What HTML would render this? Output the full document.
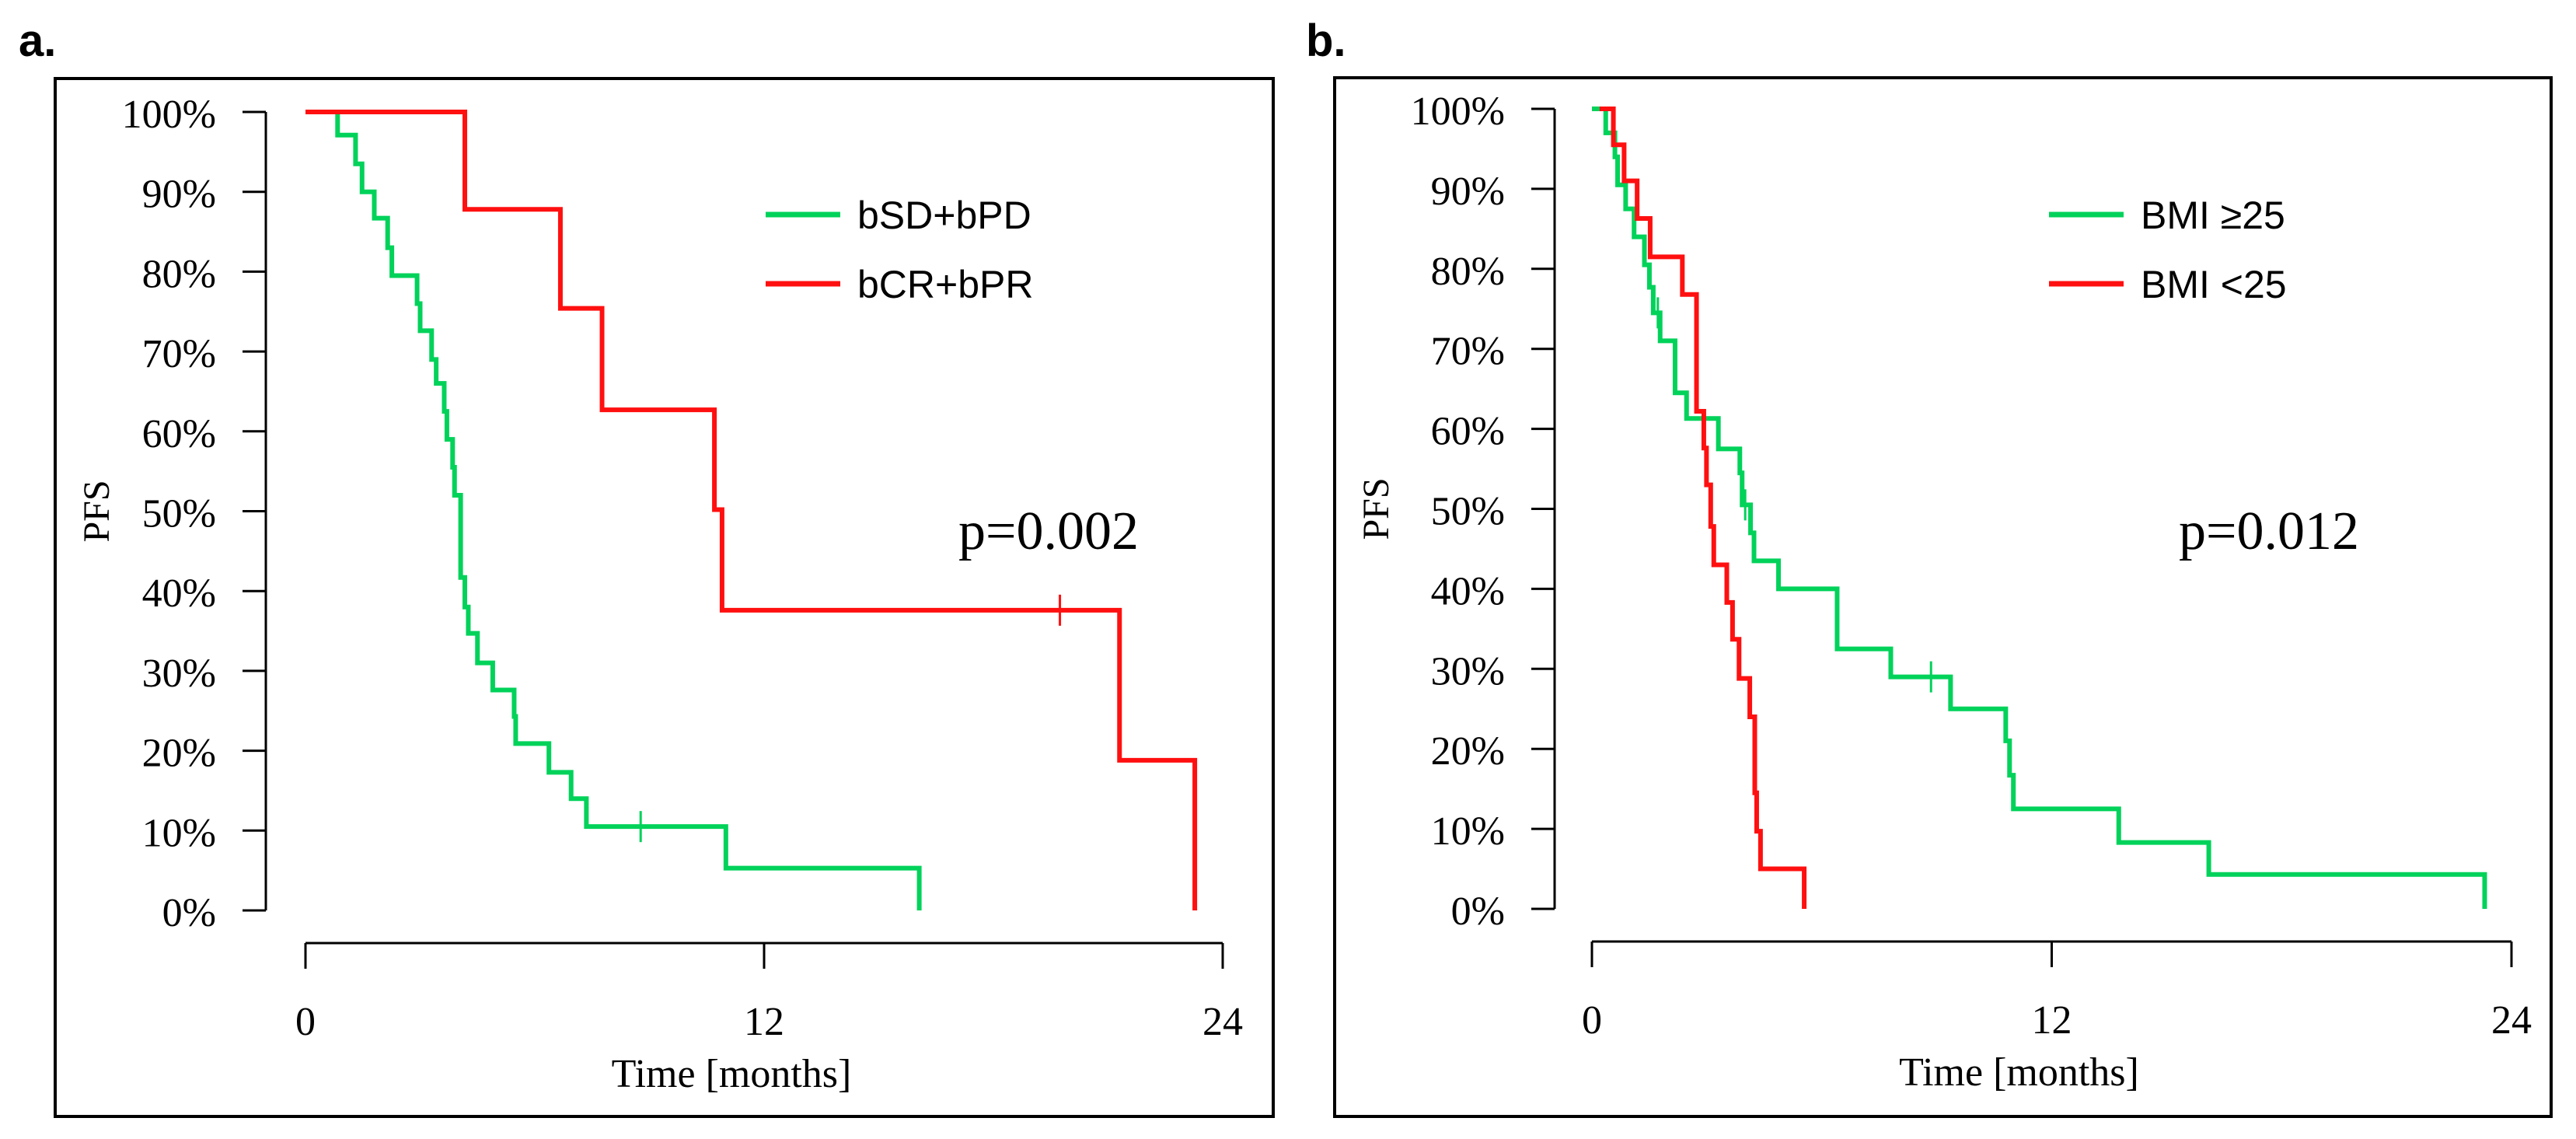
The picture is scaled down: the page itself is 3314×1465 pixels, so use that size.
<!DOCTYPE html>
<html><head><meta charset="utf-8"><style>
html,body{margin:0;padding:0;background:#fff;overflow:hidden;}
svg{display:block;}
</style></head><body>
<svg id="chart" width="3314" height="1465" viewBox="0 0 3314 1465" xmlns="http://www.w3.org/2000/svg">
</svg>
<script>
// Panel a data (months, %)
const aGreenT = [0,0.84,1.31,1.48,1.8,2.15,2.26,2.92,3.0,3.3,3.42,3.63,3.7,3.85,3.9,4.06,4.17,4.26,4.5,4.9,5.46,5.5,6.37,6.95,7.35,11.0,16.06];
const aGreenS = [100,97.1,93.5,90,86.7,83,79.5,76,72.6,69,66,62.5,59,55.5,52,41.7,38,34.7,31,27.6,24.3,20.9,17.3,14,10.5,5.3,0];
const aGreenCens = [8.77];
const aRedT = [0,4.17,6.67,7.76,10.7,10.9,21.3,23.27];
const aRedS = [100,87.8,75.4,62.7,50.2,37.6,18.8,0];
const aRedCens = [19.74];
// Panel b data
const bGreenT = [0,0.36,0.6,0.67,0.88,1.1,1.37,1.5,1.6,1.78,2.17,2.47,3.3,3.86,3.92,4.14,4.23,4.87,6.4,7.8,9.36,10.8,10.9,11.0,13.75,16.1,23.3];
const bGreenS = [100,97,94,90.5,87.5,84,80.5,77.7,74.5,71,64.5,61.3,57.5,54.5,50.5,47,43.5,40,32.5,29,25,21,16.7,12.5,8.3,4.3,0];
const bGreenCens = [1.72,4.0,8.85];
const bRedT = [0.2,0.56,0.84,1.18,1.52,2.36,2.73,2.92,2.99,3.1,3.18,3.52,3.67,3.84,4.12,4.25,4.3,4.4,5.54];
const bRedS = [100,95.5,91,86.3,81.5,76.8,62.2,57.6,53,47.8,43,38.3,33.7,28.8,24,14.5,9.7,5,0];
const bRedCens = [];
const yTicks = [0,10,20,30,40,50,60,70,80,90,100];
const xTicks = [0,12,24];

const NS = "http://www.w3.org/2000/svg";
const svg = document.getElementById('chart');
function mk(tag, attrs, parent, text){
  const e = document.createElementNS(NS, tag);
  for (const k in attrs) e.setAttribute(k, attrs[k]);
  if (text !== undefined) e.textContent = text;
  (parent||svg).appendChild(e);
  return e;
}
const GREEN = "#00d25a", RED = "#ff1010";

function panel(cfg){
  const g = mk('g', {});
  
  
  const xs = t => cfg.x0 + (cfg.x24 - cfg.x0) * t / 24;
  const ys = p => cfg.y0 + (cfg.y100 - cfg.y0) * p / 100;
  const lt = mk('text', {x: cfg.lx, y: 72, 'font-family': 'Liberation Sans, sans-serif', 'font-weight': 'bold', 'font-size': 58}, g, cfg.letter);
  
  
  const fr = mk('rect', {x: cfg.bx, y: cfg.by, width: cfg.bw, height: cfg.bh, fill: 'none', stroke: '#000', 'stroke-width': 4}, g);
  
  
  const ya = mk('line', {x1: cfg.yax, y1: ys(100), x2: cfg.yax, y2: ys(0), stroke: '#000', 'stroke-width': 3}, g);
  
  
  yTicks.forEach(v => {
    mk('line', {x1: cfg.yax - 30, y1: ys(v), x2: cfg.yax, y2: ys(v), stroke: '#000', 'stroke-width': 3}, g);
    const t = mk('text', {x: cfg.yax - 64, y: ys(v) + 20, 'text-anchor': 'end', 'font-family': 'Liberation Serif, serif', 'font-size': 52}, g, v + '%');
    
    
  });
  const xa = mk('line', {x1: xs(0), y1: cfg.xay, x2: xs(24), y2: cfg.xay, stroke: '#000', 'stroke-width': 3}, g);
  
  
  xTicks.forEach(v => {
    mk('line', {x1: xs(v), y1: cfg.xay, x2: xs(v), y2: cfg.xay + 33, stroke: '#000', 'stroke-width': 3}, g);
    const t = mk('text', {x: xs(v), y: cfg.xay + 118, 'text-anchor': 'middle', 'font-family': 'Liberation Serif, serif', 'font-size': 52}, g, String(v));
    
    
  });
  const xt = mk('text', {x: xs(12) - 42, y: cfg.xay + 185, 'text-anchor': 'middle', 'font-family': 'Liberation Serif, serif', 'font-size': 52}, g, 'Time [months]');
  
  
  const yt = mk('text', {x: 0, y: 0, 'text-anchor': 'middle', 'font-family': 'Liberation Serif, serif', 'font-size': 48, transform: `translate(${cfg.bx + 69},${(ys(0)+ys(100))/2}) rotate(-90)`}, g, 'PFS');
  
  
  function curve(T, S, cens, color, name){
    let d = `M${xs(T[0])},${ys(S[0])}`;
    for (let i = 1; i < T.length; i++){
      d += ` H${xs(T[i])} V${ys(S[i])}`;
    }
    const p = mk('path', {d, fill: 'none', stroke: color, 'stroke-width': 6}, g);
    
    
    cens.forEach(c => {
      let s = S[0];
      for (let i = 0; i < T.length; i++) if (T[i] <= c) s = S[i];
      const m = mk('line', {x1: xs(c), y1: ys(s) - 20, x2: xs(c), y2: ys(s) + 20, stroke: color, 'stroke-width': 3}, g);
      
      
    });
  }
  curve(cfg.gT, cfg.gS, cfg.gC, GREEN, 'curve-green');
  curve(cfg.rT, cfg.rS, cfg.rC, RED, 'curve-red');
  [[cfg.leg1, GREEN, 276], [cfg.leg2, RED, 365]].forEach(([lab, col, y]) => {
    const l = mk('line', {x1: cfg.lgx, y1: y, x2: cfg.lgx + 96, y2: y, stroke: col, 'stroke-width': 7}, g);
    
    
    const t = mk('text', {x: cfg.lgx + 118, y: y + 18, 'font-family': 'Liberation Sans, sans-serif', 'font-size': 50}, g, lab);
    
    
  });
  const pv = mk('text', {x: cfg.px, y: 706, 'font-family': 'Liberation Serif, serif', 'font-size': 70}, g, cfg.p);
  
  
}

panel({name:'panel-a', letter:'a.', lx:24, bx:71, by:101, bw:1567, bh:1335, yax:342, y0:1171, y100:144,
  x0:393, x24:1573, xay:1213, gT:aGreenT, gS:aGreenS, gC:aGreenCens, rT:aRedT, rS:aRedS, rC:aRedCens,
  leg1:'bSD+bPD', leg2:'bCR+bPR', lgx:985, px:1233, p:'p=0.002'});
panel({name:'panel-b', letter:'b.', lx:1680, bx:1717, by:100, bw:1565, bh:1336, yax:2000, y0:1169, y100:140,
  x0:2048, x24:3231, xay:1211, gT:bGreenT, gS:bGreenS, gC:bGreenCens, rT:bRedT, rS:bRedS, rC:bRedCens,
  leg1:'BMI \u226525', leg2:'BMI <25', lgx:2636, px:2803, p:'p=0.012'});
</script>
</body></html>
